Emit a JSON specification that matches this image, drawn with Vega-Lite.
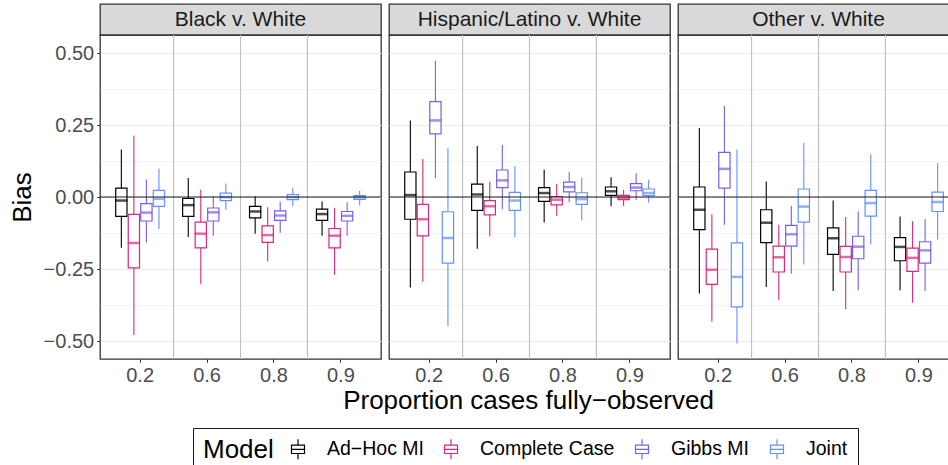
{
  "$schema": "https://vega.github.io/schema/vega-lite/v6.json",
  "padding": {"left": 8, "top": 3, "right": 5, "bottom": 5},
  "background": "white",
  "spacing": 2,
  "config": {
    "font": "Liberation Sans",
    "view": {"stroke": null},
    "axis": {"labelFont": "Liberation Sans", "titleFont": "Liberation Sans", "labelColor": "#4D4D4D", "labelFontSize": 20, "titleFontSize": 26, "titleFontWeight": "normal", "titleColor": "#000000", "tickColor": "#333333", "tickSize": 3.3, "labelPadding": 3},
    "legend": {"labelFont": "Liberation Sans", "titleFont": "Liberation Sans"}
  },
  "datasets": {
    "strips": [
      {"panel": "Black v. White"},
      {"panel": "Hispanic/Latino v. White"},
      {"panel": "Other v. White"}
    ],
    "xtitle": [{"label": "Proportion cases fully\u2212observed"}],
    "seps": [{"p": "0.6"}, {"p": "0.8"}, {"p": "0.9"}],
    "boxes": [
      {"panel": "Black v. White", "p": "0.2", "model": "Ad\u2212Hoc MI", "lo": -0.176, "q1": -0.067, "med": -0.012, "q3": 0.031, "hi": 0.165},
      {"panel": "Black v. White", "p": "0.2", "model": "Complete Case", "lo": -0.479, "q1": -0.246, "med": -0.159, "q3": -0.06, "hi": 0.214},
      {"panel": "Black v. White", "p": "0.2", "model": "Gibbs MI", "lo": -0.158, "q1": -0.083, "med": -0.054, "q3": -0.023, "hi": 0.061},
      {"panel": "Black v. White", "p": "0.2", "model": "Joint", "lo": -0.111, "q1": -0.032, "med": -0.006, "q3": 0.023, "hi": 0.098},
      {"panel": "Black v. White", "p": "0.6", "model": "Ad\u2212Hoc MI", "lo": -0.139, "q1": -0.067, "med": -0.028, "q3": -0.005, "hi": 0.066},
      {"panel": "Black v. White", "p": "0.6", "model": "Complete Case", "lo": -0.303, "q1": -0.176, "med": -0.127, "q3": -0.087, "hi": 0.025},
      {"panel": "Black v. White", "p": "0.6", "model": "Gibbs MI", "lo": -0.134, "q1": -0.083, "med": -0.053, "q3": -0.038, "hi": 0.003},
      {"panel": "Black v. White", "p": "0.6", "model": "Joint", "lo": -0.044, "q1": -0.012, "med": 0.0, "q3": 0.014, "hi": 0.047},
      {"panel": "Black v. White", "p": "0.8", "model": "Ad\u2212Hoc MI", "lo": -0.127, "q1": -0.072, "med": -0.05, "q3": -0.032, "hi": 0.003},
      {"panel": "Black v. White", "p": "0.8", "model": "Complete Case", "lo": -0.224, "q1": -0.157, "med": -0.132, "q3": -0.1, "hi": -0.035},
      {"panel": "Black v. White", "p": "0.8", "model": "Gibbs MI", "lo": -0.124, "q1": -0.081, "med": -0.064, "q3": -0.048, "hi": -0.015},
      {"panel": "Black v. White", "p": "0.8", "model": "Joint", "lo": -0.031, "q1": -0.009, "med": 0.0, "q3": 0.009, "hi": 0.032},
      {"panel": "Black v. White", "p": "0.9", "model": "Ad\u2212Hoc MI", "lo": -0.134, "q1": -0.081, "med": -0.059, "q3": -0.042, "hi": -0.015},
      {"panel": "Black v. White", "p": "0.9", "model": "Complete Case", "lo": -0.27, "q1": -0.176, "med": -0.134, "q3": -0.109, "hi": -0.037},
      {"panel": "Black v. White", "p": "0.9", "model": "Gibbs MI", "lo": -0.134, "q1": -0.083, "med": -0.065, "q3": -0.05, "hi": -0.018},
      {"panel": "Black v. White", "p": "0.9", "model": "Joint", "lo": -0.028, "q1": -0.008, "med": -0.001, "q3": 0.005, "hi": 0.022},
      {"panel": "Hispanic/Latino v. White", "p": "0.2", "model": "Ad\u2212Hoc MI", "lo": -0.314, "q1": -0.077, "med": 0.007, "q3": 0.087, "hi": 0.266},
      {"panel": "Hispanic/Latino v. White", "p": "0.2", "model": "Complete Case", "lo": -0.294, "q1": -0.135, "med": -0.077, "q3": -0.025, "hi": 0.132},
      {"panel": "Hispanic/Latino v. White", "p": "0.2", "model": "Gibbs MI", "lo": 0.066, "q1": 0.219, "med": 0.266, "q3": 0.331, "hi": 0.473},
      {"panel": "Hispanic/Latino v. White", "p": "0.2", "model": "Joint", "lo": -0.448, "q1": -0.229, "med": -0.142, "q3": -0.051, "hi": 0.17},
      {"panel": "Hispanic/Latino v. White", "p": "0.6", "model": "Ad\u2212Hoc MI", "lo": -0.179, "q1": -0.046, "med": 0.009, "q3": 0.045, "hi": 0.177},
      {"panel": "Hispanic/Latino v. White", "p": "0.6", "model": "Complete Case", "lo": -0.137, "q1": -0.062, "med": -0.032, "q3": -0.012, "hi": 0.054},
      {"panel": "Hispanic/Latino v. White", "p": "0.6", "model": "Gibbs MI", "lo": -0.042, "q1": 0.033, "med": 0.058, "q3": 0.094, "hi": 0.181},
      {"panel": "Hispanic/Latino v. White", "p": "0.6", "model": "Joint", "lo": -0.139, "q1": -0.046, "med": -0.012, "q3": 0.016, "hi": 0.107},
      {"panel": "Hispanic/Latino v. White", "p": "0.8", "model": "Ad\u2212Hoc MI", "lo": -0.088, "q1": -0.015, "med": 0.014, "q3": 0.033, "hi": 0.095},
      {"panel": "Hispanic/Latino v. White", "p": "0.8", "model": "Complete Case", "lo": -0.065, "q1": -0.027, "med": -0.009, "q3": 0.002, "hi": 0.046},
      {"panel": "Hispanic/Latino v. White", "p": "0.8", "model": "Gibbs MI", "lo": -0.018, "q1": 0.018, "med": 0.035, "q3": 0.052, "hi": 0.087},
      {"panel": "Hispanic/Latino v. White", "p": "0.8", "model": "Joint", "lo": -0.081, "q1": -0.025, "med": -0.007, "q3": 0.015, "hi": 0.067},
      {"panel": "Hispanic/Latino v. White", "p": "0.9", "model": "Ad\u2212Hoc MI", "lo": -0.032, "q1": 0.006, "med": 0.02, "q3": 0.035, "hi": 0.069},
      {"panel": "Hispanic/Latino v. White", "p": "0.9", "model": "Complete Case", "lo": -0.031, "q1": -0.009, "med": -0.002, "q3": 0.006, "hi": 0.025},
      {"panel": "Hispanic/Latino v. White", "p": "0.9", "model": "Gibbs MI", "lo": -0.009, "q1": 0.022, "med": 0.033, "q3": 0.047, "hi": 0.083},
      {"panel": "Hispanic/Latino v. White", "p": "0.9", "model": "Joint", "lo": -0.02, "q1": 0.005, "med": 0.014, "q3": 0.028, "hi": 0.06},
      {"panel": "Other v. White", "p": "0.2", "model": "Ad\u2212Hoc MI", "lo": -0.335, "q1": -0.113, "med": -0.044, "q3": 0.035, "hi": 0.24},
      {"panel": "Other v. White", "p": "0.2", "model": "Complete Case", "lo": -0.433, "q1": -0.303, "med": -0.252, "q3": -0.181, "hi": -0.06},
      {"panel": "Other v. White", "p": "0.2", "model": "Gibbs MI", "lo": -0.096, "q1": 0.031, "med": 0.098, "q3": 0.155, "hi": 0.316},
      {"panel": "Other v. White", "p": "0.2", "model": "Joint", "lo": -0.508, "q1": -0.381, "med": -0.277, "q3": -0.159, "hi": 0.165},
      {"panel": "Other v. White", "p": "0.6", "model": "Ad\u2212Hoc MI", "lo": -0.312, "q1": -0.158, "med": -0.089, "q3": -0.044, "hi": 0.054},
      {"panel": "Other v. White", "p": "0.6", "model": "Complete Case", "lo": -0.358, "q1": -0.26, "med": -0.209, "q3": -0.17, "hi": -0.096},
      {"panel": "Other v. White", "p": "0.6", "model": "Gibbs MI", "lo": -0.266, "q1": -0.17, "med": -0.129, "q3": -0.098, "hi": -0.031},
      {"panel": "Other v. White", "p": "0.6", "model": "Joint", "lo": -0.234, "q1": -0.087, "med": -0.033, "q3": 0.028, "hi": 0.188},
      {"panel": "Other v. White", "p": "0.8", "model": "Ad\u2212Hoc MI", "lo": -0.326, "q1": -0.199, "med": -0.143, "q3": -0.107, "hi": -0.012},
      {"panel": "Other v. White", "p": "0.8", "model": "Complete Case", "lo": -0.389, "q1": -0.26, "med": -0.208, "q3": -0.171, "hi": -0.069},
      {"panel": "Other v. White", "p": "0.8", "model": "Gibbs MI", "lo": -0.323, "q1": -0.214, "med": -0.172, "q3": -0.136, "hi": -0.05},
      {"panel": "Other v. White", "p": "0.8", "model": "Joint", "lo": -0.165, "q1": -0.066, "med": -0.021, "q3": 0.023, "hi": 0.149},
      {"panel": "Other v. White", "p": "0.9", "model": "Ad\u2212Hoc MI", "lo": -0.323, "q1": -0.221, "med": -0.173, "q3": -0.141, "hi": -0.067},
      {"panel": "Other v. White", "p": "0.9", "model": "Complete Case", "lo": -0.367, "q1": -0.258, "med": -0.211, "q3": -0.177, "hi": -0.084},
      {"panel": "Other v. White", "p": "0.9", "model": "Gibbs MI", "lo": -0.326, "q1": -0.229, "med": -0.185, "q3": -0.155, "hi": -0.077},
      {"panel": "Other v. White", "p": "0.9", "model": "Joint", "lo": -0.147, "q1": -0.05, "med": -0.017, "q3": 0.017, "hi": 0.118}
    ]
  },
  "vconcat": [
    {
      "spacing": 4,
      "hconcat": [
        {
          "bounds": "flush",
          "spacing": 0,
          "vconcat": [
            {
              "width": 281, "height": 31,
              "view": {"fill": "#D9D9D9", "stroke": "#333333", "strokeWidth": 1.3},
              "data": {"name": "strips"},
              "transform": [{"filter": "datum.panel === 'Black v. White'"}],
              "mark": {"type": "text", "fontSize": 21, "color": "#1A1A1A", "font": "Liberation Sans"},
              "encoding": {"text": {"field": "panel", "type": "nominal"}}
            },
            {
              "width": 281, "height": 324,
              "view": {"stroke": "#333333", "strokeWidth": 1.3},
              "layer": [
                {
                  "data": {"name": "seps"},
                  "mark": {"type": "rule", "color": "#BEBEBE", "strokeWidth": 1.1},
                  "encoding": {"x": {"field": "p", "type": "ordinal", "bandPosition": 0, "scale": {"domain": ["0.2", "0.6", "0.8", "0.9"], "paddingInner": 0, "paddingOuter": 0.1}, "axis": {"title": null, "labelAngle": 0, "domain": false, "grid": false}}}
                },
                {
                  "data": {"name": "boxes"},
                  "transform": [{"filter": "datum.panel === 'Black v. White'"}],
                  "encoding": {
                    "x": {"field": "p", "type": "ordinal", "scale": {"domain": ["0.2", "0.6", "0.8", "0.9"], "paddingInner": 0, "paddingOuter": 0.1}},
                    "xOffset": {"field": "model", "type": "nominal", "scale": {"domain": ["Ad\u2212Hoc MI", "Complete Case", "Gibbs MI", "Joint"], "paddingInner": 0.1, "paddingOuter": 0.72}},
                    "stroke": {"field": "model", "type": "nominal", "scale": {"domain": ["Ad\u2212Hoc MI", "Complete Case", "Gibbs MI", "Joint"], "range": ["#000000", "#DC267F", "#785EF0", "#648FFF"]},
                      "legend": {"orient": "none", "legendX": 93, "legendY": 424, "direction": "horizontal", "title": "Model", "titleOrient": "left", "titleFontSize": 26, "titleFontWeight": "normal", "titleColor": "#000000", "titlePadding": 13, "labelFontSize": 19.5, "labelColor": "#000000", "labelOffset": 18, "columnPadding": 16, "symbolType": "M0,-1V-0.42M-0.65,-0.42H0.65V0.42H-0.65ZM-0.65,0H0.65M0,0.42V1", "symbolSize": 400, "symbolStrokeWidth": 1.2, "symbolFillColor": "white", "padding": 10, "strokeColor": "#1A1A1A", "fillColor": "white",
                        "encode": {"symbols": {"update": {"fill": {"value": "white"}}}}}}
                  },
                  "layer": [
                    {"mark": {"type": "rule", "strokeWidth": 1.1},
                     "encoding": {"y": {"field": "lo", "type": "quantitative", "scale": {"domain": [-0.562, 0.5625], "nice": false, "zero": false},
                       "axis": {"title": "Bias", "titlePadding": 8, "domain": false, "grid": true, "gridColor": "#EBEBEB",
                         "values": [-0.5, -0.375, -0.25, -0.125, 0, 0.125, 0.25, 0.375, 0.5],
                         "labelExpr": "abs(datum.value*4 - round(datum.value*4)) < 0.001 ? replace(format(datum.value, '.2f'), '-', '\u2212') : ''",
                         "tickOpacity": {"condition": {"test": "abs(datum.value*4 - round(datum.value*4)) > 0.001", "value": 0}, "value": 1},
                         "gridWidth": {"condition": {"test": "abs(datum.value*4 - round(datum.value*4)) > 0.001", "value": 0.6}, "value": 1.1}}},
                       "y2": {"field": "hi"}}},
                    {"mark": {"type": "bar", "fill": "white", "strokeWidth": 1.2},
                     "encoding": {"y": {"field": "q1", "type": "quantitative"}, "y2": {"field": "q3"}}},
                    {"mark": {"type": "tick", "filled": false, "thickness": 0.5, "size": 10, "strokeWidth": 2},
                     "encoding": {"y": {"field": "med", "type": "quantitative"}}}
                  ]
                },
                {
                  "data": {"values": [{}]},
                  "mark": {"type": "rule", "color": "#1A1A1A", "strokeWidth": 1.1},
                  "encoding": {"y": {"datum": 0}}
                }
              ]
            }
          ]
        },
        {
          "bounds": "flush",
          "spacing": 0,
          "vconcat": [
            {
              "width": 281, "height": 31,
              "view": {"fill": "#D9D9D9", "stroke": "#333333", "strokeWidth": 1.3},
              "data": {"name": "strips"},
              "transform": [{"filter": "datum.panel === 'Hispanic/Latino v. White'"}],
              "mark": {"type": "text", "fontSize": 21, "color": "#1A1A1A", "font": "Liberation Sans"},
              "encoding": {"text": {"field": "panel", "type": "nominal"}}
            },
            {
              "width": 281, "height": 324,
              "view": {"stroke": "#333333", "strokeWidth": 1.3},
              "layer": [
                {
                  "data": {"name": "seps"},
                  "mark": {"type": "rule", "color": "#BEBEBE", "strokeWidth": 1.1},
                  "encoding": {"x": {"field": "p", "type": "ordinal", "bandPosition": 0, "scale": {"domain": ["0.2", "0.6", "0.8", "0.9"], "paddingInner": 0, "paddingOuter": 0.1}, "axis": {"title": null, "labelAngle": 0, "domain": false, "grid": false}}}
                },
                {
                  "data": {"name": "boxes"},
                  "transform": [{"filter": "datum.panel === 'Hispanic/Latino v. White'"}],
                  "encoding": {
                    "x": {"field": "p", "type": "ordinal", "scale": {"domain": ["0.2", "0.6", "0.8", "0.9"], "paddingInner": 0, "paddingOuter": 0.1}},
                    "xOffset": {"field": "model", "type": "nominal", "scale": {"domain": ["Ad\u2212Hoc MI", "Complete Case", "Gibbs MI", "Joint"], "paddingInner": 0.1, "paddingOuter": 0.72}},
                    "stroke": {"field": "model", "type": "nominal", "scale": {"domain": ["Ad\u2212Hoc MI", "Complete Case", "Gibbs MI", "Joint"], "range": ["#000000", "#DC267F", "#785EF0", "#648FFF"]}, "legend": null}
                  },
                  "layer": [
                    {"mark": {"type": "rule", "strokeWidth": 1.1},
                     "encoding": {"y": {"field": "lo", "type": "quantitative", "scale": {"domain": [-0.562, 0.5625], "nice": false, "zero": false},
                       "axis": {"title": null, "labels": false, "ticks": false, "domain": false, "minExtent": 0, "grid": true, "gridColor": "#EBEBEB",
                         "values": [-0.5, -0.375, -0.25, -0.125, 0, 0.125, 0.25, 0.375, 0.5],
                         "gridWidth": {"condition": {"test": "abs(datum.value*4 - round(datum.value*4)) > 0.001", "value": 0.6}, "value": 1.1}}},
                       "y2": {"field": "hi"}}},
                    {"mark": {"type": "bar", "fill": "white", "strokeWidth": 1.2},
                     "encoding": {"y": {"field": "q1", "type": "quantitative"}, "y2": {"field": "q3"}}},
                    {"mark": {"type": "tick", "filled": false, "thickness": 0.5, "size": 10, "strokeWidth": 2},
                     "encoding": {"y": {"field": "med", "type": "quantitative"}}}
                  ]
                },
                {
                  "data": {"values": [{}]},
                  "mark": {"type": "rule", "color": "#1A1A1A", "strokeWidth": 1.1},
                  "encoding": {"y": {"datum": 0}}
                }
              ]
            }
          ]
        },
        {
          "bounds": "flush",
          "spacing": 0,
          "vconcat": [
            {
              "width": 281, "height": 31,
              "view": {"fill": "#D9D9D9", "stroke": "#333333", "strokeWidth": 1.3},
              "data": {"name": "strips"},
              "transform": [{"filter": "datum.panel === 'Other v. White'"}],
              "mark": {"type": "text", "fontSize": 21, "color": "#1A1A1A", "font": "Liberation Sans"},
              "encoding": {"text": {"field": "panel", "type": "nominal"}}
            },
            {
              "width": 281, "height": 324,
              "view": {"stroke": "#333333", "strokeWidth": 1.3},
              "layer": [
                {
                  "data": {"name": "seps"},
                  "mark": {"type": "rule", "color": "#BEBEBE", "strokeWidth": 1.1},
                  "encoding": {"x": {"field": "p", "type": "ordinal", "bandPosition": 0, "scale": {"domain": ["0.2", "0.6", "0.8", "0.9"], "paddingInner": 0, "paddingOuter": 0.1}, "axis": {"title": null, "labelAngle": 0, "domain": false, "grid": false}}}
                },
                {
                  "data": {"name": "boxes"},
                  "transform": [{"filter": "datum.panel === 'Other v. White'"}],
                  "encoding": {
                    "x": {"field": "p", "type": "ordinal", "scale": {"domain": ["0.2", "0.6", "0.8", "0.9"], "paddingInner": 0, "paddingOuter": 0.1}},
                    "xOffset": {"field": "model", "type": "nominal", "scale": {"domain": ["Ad\u2212Hoc MI", "Complete Case", "Gibbs MI", "Joint"], "paddingInner": 0.1, "paddingOuter": 0.72}},
                    "stroke": {"field": "model", "type": "nominal", "scale": {"domain": ["Ad\u2212Hoc MI", "Complete Case", "Gibbs MI", "Joint"], "range": ["#000000", "#DC267F", "#785EF0", "#648FFF"]}, "legend": null}
                  },
                  "layer": [
                    {"mark": {"type": "rule", "strokeWidth": 1.1},
                     "encoding": {"y": {"field": "lo", "type": "quantitative", "scale": {"domain": [-0.562, 0.5625], "nice": false, "zero": false},
                       "axis": {"title": null, "labels": false, "ticks": false, "domain": false, "minExtent": 0, "grid": true, "gridColor": "#EBEBEB",
                         "values": [-0.5, -0.375, -0.25, -0.125, 0, 0.125, 0.25, 0.375, 0.5],
                         "gridWidth": {"condition": {"test": "abs(datum.value*4 - round(datum.value*4)) > 0.001", "value": 0.6}, "value": 1.1}}},
                       "y2": {"field": "hi"}}},
                    {"mark": {"type": "bar", "fill": "white", "strokeWidth": 1.2},
                     "encoding": {"y": {"field": "q1", "type": "quantitative"}, "y2": {"field": "q3"}}},
                    {"mark": {"type": "tick", "filled": false, "thickness": 0.5, "size": 10, "strokeWidth": 2},
                     "encoding": {"y": {"field": "med", "type": "quantitative"}}}
                  ]
                },
                {
                  "data": {"values": [{}]},
                  "mark": {"type": "rule", "color": "#1A1A1A", "strokeWidth": 1.1},
                  "encoding": {"y": {"datum": 0}}
                }
              ]
            }
          ]
        }
      ]
    },
    {
      "width": 857, "height": 26,
      "data": {"name": "xtitle"},
      "mark": {"type": "text", "fontSize": 26, "color": "#000000", "font": "Liberation Sans"},
      "encoding": {"text": {"field": "label", "type": "nominal"}}
    }
  ]
}
